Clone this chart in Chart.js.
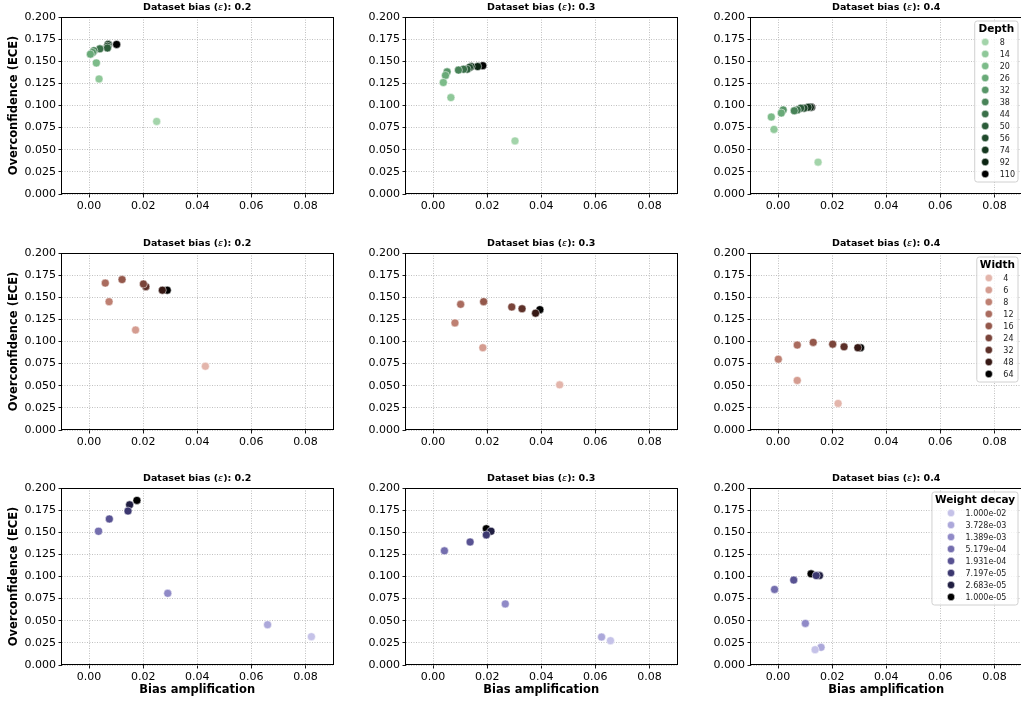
<!DOCTYPE html>
<html>
<head>
<meta charset="utf-8">
<script src="https://cdn.jsdelivr.net/npm/chart.js@4.4.1/dist/chart.umd.min.js"></script>
<style>
  html, body { margin: 0; padding: 0; background: #fff; overflow: hidden; width: 1021px; height: 702px; }
  canvas { position: absolute; }
</style>
</head>
<body>
<script>
// data
const biases = [0.2, 0.3, 0.4];
const xTicks = [0, 0.02, 0.04, 0.06, 0.08];
const yTicks = [0, 0.025, 0.05, 0.075, 0.1, 0.125, 0.15, 0.175, 0.2];

const depthLabels = ['8', '14', '20', '26', '32', '38', '44', '50', '56', '74', '92', '110'];
const depthX02 = [0.025, 0.0037, 0.0027, 0.0005, 0.0013, 0.0018, 0.004, 0.0068, 0.0068, 0.007, 0.0072, 0.0102];
const depthY02 = [0.082, 0.130, 0.148, 0.158, 0.160, 0.162, 0.164, 0.165, 0.167, 0.169, 0.169, 0.169];
const depthX03 = [0.0303, 0.0066, 0.0038, 0.0046, 0.0052, 0.0094, 0.0113, 0.0126, 0.0135, 0.0141, 0.0165, 0.0184];
const depthY03 = [0.060, 0.109, 0.126, 0.134, 0.138, 0.140, 0.141, 0.141, 0.143, 0.144, 0.144, 0.145];
const depthX04 = [0.0148, -0.0015, -0.0025, 0.0012, 0.0019, 0.006, 0.0071, 0.0084, 0.0096, 0.0111, 0.012, 0.0124];
const depthY04 = [0.036, 0.073, 0.087, 0.0915, 0.095, 0.094, 0.095, 0.097, 0.097, 0.098, 0.098, 0.098];

const widthLabels = ['4', '6', '8', '12', '16', '24', '32', '48', '64'];
const widthX02 = [0.043, 0.0172, 0.0074, 0.006, 0.0122, 0.0201, 0.021, 0.0271, 0.0289];
const widthY02 = [0.072, 0.113, 0.145, 0.166, 0.170, 0.165, 0.162, 0.158, 0.158];
const widthX03 = [0.0468, 0.0184, 0.0081, 0.0102, 0.0187, 0.0291, 0.0329, 0.0379, 0.0395];
const widthY03 = [0.051, 0.093, 0.121, 0.142, 0.145, 0.139, 0.137, 0.132, 0.136];
const widthX04 = [0.0222, 0.0071, 0.0001, 0.0071, 0.013, 0.0202, 0.0244, 0.0295, 0.0305];
const widthY04 = [0.030, 0.056, 0.080, 0.096, 0.099, 0.097, 0.094, 0.093, 0.093];

const wdLabels = ['1.000e-02', '3.728e-03', '1.389e-03', '5.179e-04', '1.931e-04', '7.197e-05', '2.683e-05', '1.000e-05'];
const wdX02 = [0.0822, 0.066, 0.0291, 0.0035, 0.0075, 0.0144, 0.015, 0.0177];
const wdY02 = [0.032, 0.0455, 0.081, 0.151, 0.165, 0.174, 0.181, 0.186];
const wdX03 = [0.0656, 0.0623, 0.0267, 0.0042, 0.0137, 0.0197, 0.0214, 0.0197];
const wdY03 = [0.0275, 0.0316, 0.069, 0.129, 0.139, 0.147, 0.151, 0.154];
const wdX04 = [0.0137, 0.0159, 0.0101, -0.0013, 0.0058, 0.0141, 0.0153, 0.0122];
const wdY04 = [0.0173, 0.020, 0.047, 0.0854, 0.096, 0.101, 0.101, 0.103];

// palettes (light -> black)
const greens = ['#a3d4aa', '#8fc899', '#7cbb89', '#69aa78', '#589668', '#488358', '#3a7049', '#2c5d3a', '#204a2c', '#15371f', '#0b2412', '#000000'];
const browns = ['#e3b5ab', '#d49c90', '#be8072', '#aa6c5f', '#94584b', '#7a443a', '#5d3029', '#371915', '#000000'];
const purples = ['#c5c2e8', '#aca8da', '#908ac7', '#746eae', '#585292', '#3c3870', '#211f42', '#000000'];

const colLeft = [0, 344, 689];
const rowTop = [0, 236, 471];
const FONT = '"DejaVu Sans"';

function drawTitle(ctx, area, bias) {
  const a = 'Dataset bias (', b = 'ε', c = '): ' + bias.toFixed(1);
  ctx.save();
  ctx.fillStyle = '#000';
  ctx.textBaseline = 'middle';
  ctx.font = 'bold 9.5px ' + FONT;
  const wa = ctx.measureText(a).width, wc = ctx.measureText(c).width;
  ctx.font = 'italic 9.5px ' + FONT;
  const wb = ctx.measureText(b).width;
  let x = (area.left + area.right) / 2 - (wa + wb + wc) / 2;
  const y = area.top - 9.4;
  ctx.font = 'bold 9.5px ' + FONT;
  ctx.fillText(a, x, y);
  ctx.font = 'italic 9.5px ' + FONT;
  ctx.fillText(b, x + wa, y);
  ctx.font = 'bold 9.5px ' + FONT;
  ctx.fillText(c, x + wa + wb, y);
  ctx.restore();
}

function drawLegend(ctx, area, title, labels, colors) {
  ctx.save();
  ctx.font = 'bold 10.5px ' + FONT;
  const titleW = ctx.measureText(title).width;
  ctx.font = '8px ' + FONT;
  let textW = 0;
  labels.forEach(l => { textW = Math.max(textW, ctx.measureText(l).width); });
  const entryW = 22 + textW;
  const pad = 3;
  const boxW = Math.max(titleW, entryW) + 2 * pad;
  const boxH = 21 + (labels.length - 1) * 12 + 8;
  const right = area.right - 3.5, top = area.top + 4, left = right - boxW;
  ctx.beginPath();
  ctx.roundRect(left, top, boxW, boxH, 2.5);
  ctx.fillStyle = 'rgba(255,255,255,0.8)';
  ctx.fill();
  ctx.strokeStyle = '#d0d0d0';
  ctx.lineWidth = 1;
  ctx.stroke();
  ctx.fillStyle = '#000';
  ctx.textBaseline = 'middle';
  ctx.textAlign = 'center';
  ctx.font = 'bold 10.5px ' + FONT;
  ctx.fillText(title, left + boxW / 2, top + 8.5);
  const ex = left + pad + (boxW - 2 * pad - entryW) / 2;
  ctx.textAlign = 'left';
  ctx.font = '8px ' + FONT;
  labels.forEach((l, i) => {
    const y = top + 21 + i * 12;
    ctx.beginPath();
    ctx.arc(ex + 7.5, y, 3.7, 0, Math.PI * 2);
    ctx.fillStyle = colors[i];
    ctx.fill();
    ctx.strokeStyle = '#fff';
    ctx.lineWidth = 0.5;
    ctx.stroke();
    ctx.fillStyle = '#222';
    ctx.fillText(l, ex + 22, y + 0.5);
  });
  ctx.restore();
}

function makePanel(row, col, labels, colors, xs, ys, legendTitle) {
  const cv = document.createElement('canvas');
  cv.width = 337;
  cv.height = 230;
  cv.style.left = colLeft[col] + 'px';
  cv.style.top = rowTop[row] + 'px';
  document.body.appendChild(cv);

  const decor = {
    id: 'decor' + row + col,
    afterDraw(chart) {
      const ctx = chart.ctx, area = chart.chartArea;
      ctx.save();
      ctx.strokeStyle = '#000';
      ctx.lineWidth = 1;
      ctx.strokeRect(Math.round(area.left) - 0.5, Math.round(area.top) + 0.5,
        Math.round(area.right - area.left) + 1, Math.round(area.bottom - area.top) - 1);
      ctx.restore();
      drawTitle(ctx, area, biases[col]);
      if (legendTitle) drawLegend(ctx, area, legendTitle, labels, colors);
    }
  };

  const tickFont = { family: 'DejaVu Sans', size: 11 };
  const grid = { color: '#b0b0b0', lineWidth: 0.8, tickLength: 3.5, tickColor: '#000', tickWidth: 0.9, tickBorderDash: [] };

  new Chart(cv, {
    type: 'scatter',
    data: {
      datasets: labels.map((lab, i) => ({
        label: lab,
        data: [{ x: xs[i], y: ys[i] }],
        backgroundColor: colors[i],
        borderColor: '#fff',
        borderWidth: 0.5,
        pointRadius: 4,
        pointHoverRadius: 4
      }))
    },
    options: {
      responsive: false,
      animation: false,
      devicePixelRatio: 1,
      layout: { padding: { top: 17, right: 2, left: 0, bottom: 0 } },
      plugins: { legend: { display: false }, tooltip: { enabled: false } },
      scales: {
        x: {
          type: 'linear',
          min: -0.01,
          max: 0.09,
          afterBuildTicks: axis => { axis.ticks = xTicks.map(v => ({ value: v })); },
          afterFit: axis => { axis.height = 36; },
          ticks: { font: tickFont, color: '#000', padding: 2.5, maxRotation: 0, callback: v => v.toFixed(2) },
          grid: grid,
          border: { display: false, dash: [1, 1.5] },
          title: {
            display: row === 2,
            text: 'Bias amplification',
            color: '#000',
            font: { family: 'DejaVu Sans', size: 11.5, weight: 'bold' },
            padding: { top: 0, bottom: 4.1 }
          }
        },
        y: {
          min: 0,
          max: 0.2,
          afterBuildTicks: axis => { axis.ticks = yTicks.map(v => ({ value: v })); },
          afterFit: axis => { axis.width = 62; },
          ticks: { font: tickFont, color: '#000', padding: 2.5, callback: v => v.toFixed(3) },
          grid: grid,
          border: { display: false, dash: [1, 1.5] },
          title: {
            display: col === 0,
            text: 'Overconfidence (ECE)',
            color: '#000',
            font: { family: 'DejaVu Sans', size: 11.5, weight: 'bold' },
            padding: { top: 7.6, bottom: 0 }
          }
        }
      }
    },
    plugins: [decor]
  });
}

makePanel(0, 0, depthLabels, greens, depthX02, depthY02);
makePanel(0, 1, depthLabels, greens, depthX03, depthY03);
makePanel(0, 2, depthLabels, greens, depthX04, depthY04, 'Depth');
makePanel(1, 0, widthLabels, browns, widthX02, widthY02);
makePanel(1, 1, widthLabels, browns, widthX03, widthY03);
makePanel(1, 2, widthLabels, browns, widthX04, widthY04, 'Width');
makePanel(2, 0, wdLabels, purples, wdX02, wdY02);
makePanel(2, 1, wdLabels, purples, wdX03, wdY03);
makePanel(2, 2, wdLabels, purples, wdX04, wdY04, 'Weight decay');
</script>
</body>
</html>
